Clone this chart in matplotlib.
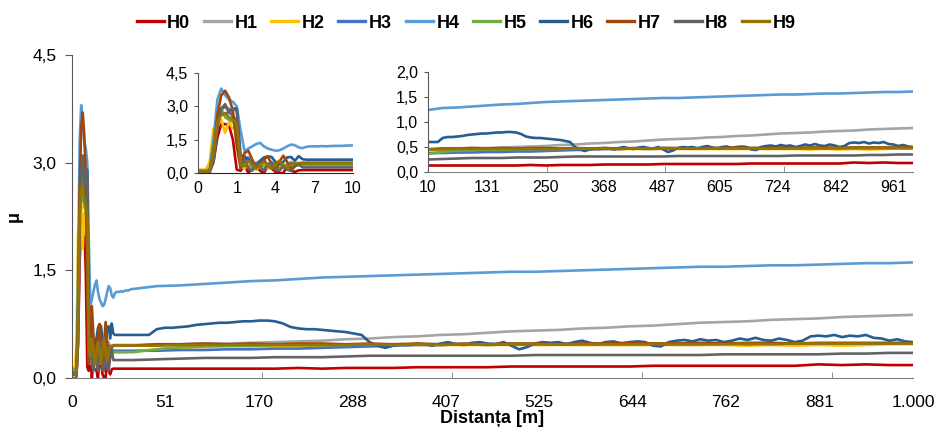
import numpy as np
import matplotlib
matplotlib.use("Agg")
import matplotlib.pyplot as plt
from matplotlib.ticker import FuncFormatter, FixedLocator
from matplotlib.lines import Line2D

plt.rcParams['font.family'] = ['Liberation Sans', 'DejaVu Sans']

# ---------------- data ----------------
names = ['H0', 'H1', 'H2', 'H3', 'H4', 'H5', 'H6', 'H7', 'H8', 'H9']
colors = ['#C00000', '#A5A5A5', '#FFC000', '#4472C4', '#5B9BD5',
          '#70AD47', '#255E91', '#9E480E', '#636363', '#997300']

# distances [m]: fine sampling at start
dist_start = [0.0, 0.1, 0.2, 0.3, 0.4, 0.5, 0.6, 0.7, 0.8, 0.9, 1.0,
              1.3, 1.6, 1.9, 2.2, 2.5, 2.8, 3.1, 3.4, 3.7, 4.0,
              4.3, 4.6, 4.9, 5.2, 5.5, 5.8, 6.1, 6.4, 6.7, 7.0,
              7.3, 7.6, 7.9, 8.2, 8.5, 8.8, 9.1, 9.4, 9.7, 10.0]
dist_rest = [10, 40, 70, 100, 130, 160, 190, 220, 250, 280, 310, 340, 370, 400,
             430, 460, 490, 520, 550, 580, 610, 640, 670, 700, 730, 760, 790,
             820, 850, 880, 910, 940, 970, 1000]
dist_h6 = list(range(10, 1001, 10))

H0_start = [0.08, 0.08, 0.08, 0.10, 0.50, 1.60, 2.20, 2.20, 2.15, 1.50, 0.15,
            0.10, 0.35, 0.00, 0.25, 0.35, 0.10, 0.00, 0.30, 0.20, 0.05,
            0.00, 0.00, 0.30, 0.10, 0.05, 0.12, 0.13, 0.13, 0.13, 0.13,
            0.13, 0.13, 0.13, 0.13, 0.13, 0.13, 0.13, 0.13, 0.13, 0.13]
H1_start = [0.05, 0.05, 0.05, 0.08, 0.80, 2.20, 2.80, 3.00, 2.90, 2.60, 2.30,
            0.30, 0.50, 0.65, 0.35, 0.20, 0.45, 0.55, 0.30, 0.25, 0.50,
            0.45, 0.25, 0.35, 0.50, 0.40, 0.45, 0.46, 0.46, 0.46, 0.46,
            0.46, 0.46, 0.46, 0.46, 0.46, 0.46, 0.46, 0.46, 0.46, 0.46]
H2_start = [0.15, 0.15, 0.15, 0.50, 2.00, 2.20, 2.40, 1.80, 2.30, 2.00, 2.20,
            0.30, 0.20, 0.40, 0.30, 0.15, 0.30, 0.35, 0.20, 0.45, 0.25,
            0.30, 0.40, 0.20, 0.35, 0.40, 0.35, 0.36, 0.36, 0.36, 0.36,
            0.36, 0.36, 0.36, 0.36, 0.36, 0.37, 0.37, 0.37, 0.37, 0.37]
H3_start = [0.10, 0.10, 0.10, 0.12, 1.00, 2.40, 2.70, 2.60, 2.80, 2.50, 2.40,
            0.20, 0.60, 0.70, 0.30, 0.20, 0.50, 0.65, 0.30, 0.20, 0.45,
            0.50, 0.25, 0.30, 0.45, 0.35, 0.38, 0.38, 0.38, 0.38, 0.38,
            0.38, 0.38, 0.38, 0.38, 0.38, 0.38, 0.38, 0.38, 0.38, 0.38]
H4_start = [0.10, 0.10, 0.12, 0.15, 1.50, 3.30, 3.80, 3.50, 3.30, 3.20, 3.00,
            1.90, 1.00, 1.10, 1.20, 1.30, 1.36, 1.20, 1.10, 1.05, 1.00,
            1.02, 1.10, 1.20, 1.28, 1.25, 1.15, 1.12, 1.18, 1.20, 1.20,
            1.20, 1.21, 1.20, 1.21, 1.22, 1.22, 1.22, 1.23, 1.24, 1.24]
H5_start = [0.12, 0.12, 0.12, 0.15, 1.20, 2.60, 2.90, 2.50, 2.40, 2.30, 2.10,
            0.30, 0.45, 0.30, 0.20, 0.40, 0.45, 0.30, 0.25, 0.40, 0.35,
            0.20, 0.30, 0.40, 0.30, 0.35, 0.36, 0.36, 0.36, 0.36, 0.36,
            0.36, 0.36, 0.36, 0.36, 0.36, 0.36, 0.36, 0.36, 0.36, 0.36]
H6_start = [0.05, 0.05, 0.05, 0.08, 1.00, 2.40, 2.90, 3.00, 2.80, 2.90, 2.90,
            0.80, 0.75, 0.60, 0.45, 0.40, 0.55, 0.70, 0.75, 0.72, 0.50,
            0.40, 0.50, 0.70, 0.72, 0.55, 0.76, 0.62, 0.60, 0.60, 0.60,
            0.60, 0.60, 0.60, 0.60, 0.60, 0.60, 0.60, 0.60, 0.60, 0.60]
H7_start = [0.05, 0.05, 0.05, 0.10, 0.80, 2.60, 3.50, 3.70, 3.40, 2.80, 1.20,
            0.20, 0.90, 1.00, 0.60, 0.25, 0.35, 0.60, 0.75, 0.40, 0.10,
            0.50, 0.78, 0.50, 0.20, 0.30, 0.42, 0.45, 0.45, 0.45, 0.45,
            0.45, 0.45, 0.45, 0.45, 0.45, 0.45, 0.45, 0.45, 0.45, 0.45]
H8_start = [0.00, 0.00, 0.00, 0.02, 0.50, 2.00, 2.90, 3.10, 2.70, 2.90, 2.80,
            0.30, 0.60, 0.20, 0.10, 0.45, 0.30, 0.10, 0.40, 0.50, 0.15,
            0.10, 0.30, 0.15, 0.10, 0.30, 0.40, 0.25, 0.25, 0.25, 0.25,
            0.25, 0.25, 0.25, 0.25, 0.25, 0.25, 0.25, 0.25, 0.25, 0.25]
H9_start = [0.05, 0.05, 0.05, 0.08, 0.90, 2.30, 2.60, 2.70, 2.50, 2.40, 2.20,
            0.40, 0.30, 0.55, 0.40, 0.20, 0.35, 0.50, 0.35, 0.20, 0.40,
            0.55, 0.35, 0.25, 0.40, 0.45, 0.44, 0.45, 0.45, 0.45, 0.45,
            0.45, 0.45, 0.45, 0.45, 0.45, 0.45, 0.45, 0.45, 0.45, 0.45]

H0_rest = [0.13, 0.13, 0.13, 0.13, 0.13, 0.13, 0.13, 0.14, 0.13, 0.14, 0.14, 0.14,
           0.15, 0.15, 0.15, 0.15, 0.16, 0.16, 0.16, 0.16, 0.16, 0.16, 0.17, 0.17,
           0.17, 0.17, 0.17, 0.17, 0.17, 0.19, 0.18, 0.19, 0.18, 0.18]
H1_rest = [0.46, 0.47, 0.47, 0.48, 0.48, 0.49, 0.50, 0.51, 0.52, 0.54, 0.55, 0.57,
           0.58, 0.60, 0.61, 0.63, 0.65, 0.66, 0.67, 0.69, 0.70, 0.72, 0.73, 0.75,
           0.77, 0.78, 0.79, 0.81, 0.82, 0.83, 0.85, 0.86, 0.87, 0.88]
H2_rest = [0.37, 0.40, 0.42, 0.43, 0.44, 0.44, 0.45, 0.45, 0.45, 0.46, 0.46, 0.46,
           0.46, 0.46, 0.46, 0.46, 0.46, 0.46, 0.46, 0.46, 0.46, 0.46, 0.46, 0.46,
           0.46, 0.46, 0.45, 0.46, 0.45, 0.46, 0.45, 0.46, 0.47, 0.47]
H3_rest = [0.38, 0.38, 0.39, 0.39, 0.40, 0.40, 0.41, 0.41, 0.42, 0.43, 0.44, 0.45,
           0.46, 0.46, 0.47, 0.46, 0.47, 0.47, 0.47, 0.47, 0.47, 0.47, 0.47, 0.47,
           0.47, 0.48, 0.47, 0.48, 0.48, 0.48, 0.48, 0.48, 0.48, 0.48]
H4_rest = [1.24, 1.28, 1.29, 1.31, 1.33, 1.35, 1.36, 1.38, 1.40, 1.41, 1.42, 1.43,
           1.44, 1.45, 1.46, 1.47, 1.48, 1.48, 1.49, 1.50, 1.51, 1.52, 1.53, 1.54,
           1.55, 1.55, 1.56, 1.57, 1.57, 1.58, 1.59, 1.60, 1.60, 1.61]
H5_rest = [0.36, 0.40, 0.43, 0.44, 0.45, 0.45, 0.46, 0.46, 0.46, 0.46, 0.47, 0.47,
           0.47, 0.47, 0.47, 0.47, 0.48, 0.47, 0.48, 0.48, 0.48, 0.48, 0.48, 0.48,
           0.48, 0.48, 0.48, 0.48, 0.48, 0.48, 0.48, 0.48, 0.48, 0.48]
H6_rest = [0.60, 0.60, 0.60, 0.68, 0.70, 0.70, 0.71, 0.72, 0.74, 0.75,
           0.76, 0.77, 0.77, 0.78, 0.79, 0.79, 0.80, 0.80, 0.79, 0.76,
           0.71, 0.69, 0.68, 0.68, 0.67, 0.66, 0.65, 0.64, 0.62, 0.60,
           0.50, 0.45, 0.42, 0.45, 0.47, 0.46, 0.48, 0.47, 0.45, 0.48,
           0.50, 0.47, 0.46, 0.49, 0.50, 0.48, 0.47, 0.50, 0.45, 0.40,
           0.43, 0.48, 0.50, 0.49, 0.50, 0.47, 0.50, 0.52, 0.49, 0.47,
           0.50, 0.51, 0.48, 0.50, 0.51, 0.50, 0.45, 0.44, 0.50, 0.52,
           0.53, 0.51, 0.54, 0.52, 0.53, 0.50, 0.52, 0.55, 0.53, 0.56,
           0.53, 0.52, 0.55, 0.53, 0.50, 0.52, 0.58, 0.59, 0.58, 0.60,
           0.57, 0.59, 0.58, 0.60, 0.56, 0.55, 0.52, 0.54, 0.51, 0.50]
H7_rest = [0.45, 0.47, 0.47, 0.48, 0.47, 0.48, 0.47, 0.48, 0.48, 0.47, 0.48, 0.47,
           0.48, 0.47, 0.48, 0.47, 0.48, 0.48, 0.47, 0.48, 0.48, 0.49, 0.48, 0.48,
           0.49, 0.48, 0.49, 0.49, 0.48, 0.49, 0.49, 0.49, 0.49, 0.49]
H8_rest = [0.25, 0.26, 0.27, 0.28, 0.28, 0.28, 0.29, 0.29, 0.29, 0.30, 0.31, 0.31,
           0.31, 0.31, 0.31, 0.31, 0.31, 0.32, 0.32, 0.32, 0.32, 0.32, 0.32, 0.32,
           0.32, 0.33, 0.33, 0.33, 0.33, 0.33, 0.34, 0.34, 0.35, 0.35]
H9_rest = [0.44, 0.45, 0.46, 0.46, 0.46, 0.46, 0.46, 0.46, 0.46, 0.46, 0.47, 0.46,
           0.47, 0.46, 0.47, 0.47, 0.47, 0.47, 0.47, 0.47, 0.47, 0.47, 0.47, 0.47,
           0.47, 0.47, 0.48, 0.47, 0.48, 0.48, 0.48, 0.48, 0.48, 0.48]

main_ticks = [0, 51, 170, 288, 407, 525, 644, 762, 881, 1000]
main_labels = ['0', '51', '170', '288', '407', '525', '644', '762', '881', '1.000']
in1_ticks = [0, 1, 4, 7, 10]
in2_ticks = [10, 131, 250, 368, 487, 605, 724, 842, 961]

starts = [H0_start, H1_start, H2_start, H3_start, H4_start,
          H5_start, H6_start, H7_start, H8_start, H9_start]
rests = [H0_rest, H1_rest, H2_rest, H3_rest, H4_rest,
         H5_rest, H6_rest, H7_rest, H8_rest, H9_rest]

# ---------------- category-like distance scale ----------------
S = 990.0 / 510.0

def fwd(d):
    d = np.asarray(d, float)
    return np.where(d <= 1, 10 * d, np.where(d <= 10, 10 + (d - 1) / 0.3, 40 + (d - 10) / S))

def inv(u):
    u = np.asarray(u, float)
    return np.where(u <= 10, u / 10, np.where(u <= 40, 1 + (u - 10) * 0.3, 10 + (u - 40) * S))

W, H = 937, 436
fig = plt.figure(figsize=(W / 100, H / 100), dpi=100)

def fpos(x0, y0, x1, y1):
    return [x0 / W, 1 - y1 / H, (x1 - x0) / W, (y1 - y0) / H]

comma = FuncFormatter(lambda v, p: f"{v:.1f}".replace('.', ','))
spine_col = '#7F7F7F'

def series_xy(i):
    xs = list(dist_start) + (list(dist_h6[1:]) if i == 6 else list(dist_rest[1:]))
    ys = list(starts[i]) + list(rests[i][1:])
    return xs, ys

def style(ax, fs, ylen):
    for s in ['top', 'right']:
        ax.spines[s].set_visible(False)
    ax.spines['left'].set_color('#595959')
    ax.spines['bottom'].set_color(spine_col)
    ax.yaxis.set_major_formatter(comma)
    ax.tick_params(axis='y', direction='out', length=ylen, color='#595959',
                   labelsize=fs, pad=4)
    ax.set_facecolor('white')

# main axes
ax = fig.add_axes(fpos(72, 55, 913, 378))
ax.set_xscale('function', functions=(fwd, inv))
for i in range(10):
    xs, ys = series_xy(i)
    ax.plot(xs, ys, color=colors[i], lw=1.9, solid_joinstyle='round')
ax.set_xlim(0, 1000)
ax.set_ylim(0, 4.5)
ax.set_yticks([0, 1.5, 3.0, 4.5])
style(ax, 12.5, 5)
ax.tick_params(axis='y', pad=6)
ax.xaxis.set_major_locator(FixedLocator(main_ticks))
ax.set_xticklabels(main_labels)
ax.tick_params(axis='x', which='major', length=0, labelsize=12.5, pad=12)
ax.xaxis.set_minor_locator(FixedLocator(list(inv([124.3, 248.5, 372.8, 497.0]))))
ax.tick_params(axis='x', which='minor', direction='in', length=4, color=spine_col)

fig.text(14 / W, 1 - 216 / H, 'μ', rotation=90, fontsize=13, fontweight='bold',
         ha='center', va='center')
fig.text(492 / W, 1 - 418 / H, 'Distanța [m]', fontsize=13, fontweight='bold',
         ha='center', va='center')

# inset 1
ax1 = fig.add_axes(fpos(198, 73, 353, 173))
ax1.set_xscale('function', functions=(fwd, inv))
for i in range(10):
    xs, ys = series_xy(i)
    ax1.plot(xs, ys, color=colors[i], lw=1.9, solid_joinstyle='round')
ax1.set_xlim(0, 10)
ax1.set_ylim(0, 4.5)
ax1.set_yticks([0, 1.5, 3.0, 4.5])
style(ax1, 11.5, 3)
ax1.spines['bottom'].set_color('#262626')
ax1.xaxis.set_major_locator(FixedLocator(in1_ticks))
ax1.set_xticklabels([str(t) for t in in1_ticks])
ax1.tick_params(axis='x', length=0, labelsize=11.5, pad=6)
ax1.xaxis.set_minor_locator(FixedLocator([]))

# inset 2
ax2 = fig.add_axes(fpos(428, 72, 913, 172))
ax2.set_xscale('function', functions=(fwd, inv))
for i in range(10):
    xs, ys = series_xy(i)
    ax2.plot(xs, ys, color=colors[i], lw=1.9, solid_joinstyle='round')
ax2.set_xlim(10, 1000)
ax2.set_ylim(0, 2.0)
ax2.set_yticks([0, 0.5, 1.0, 1.5, 2.0])
style(ax2, 11.5, 3)
ax2.xaxis.set_major_locator(FixedLocator(in2_ticks))
ax2.set_xticklabels([str(t) for t in in2_ticks])
ax2.tick_params(axis='x', which='major', length=0, labelsize=11.5, pad=6)
ax2.xaxis.set_minor_locator(FixedLocator(list(inv([164.8, 289.5, 414.0]))))
ax2.tick_params(axis='x', which='minor', direction='in', length=4, color=spine_col)

# legend
handles = [Line2D([], [], color=c, lw=2.4) for c in colors]
fig.legend(handles, names, loc='center', bbox_to_anchor=(466 / W, 1 - 23 / H),
           ncol=10, frameon=False, handlelength=1.5, handletextpad=0.2,
           columnspacing=0.75, prop={'weight': 'bold', 'size': 13})

fig.savefig('out.png', dpi=100)
